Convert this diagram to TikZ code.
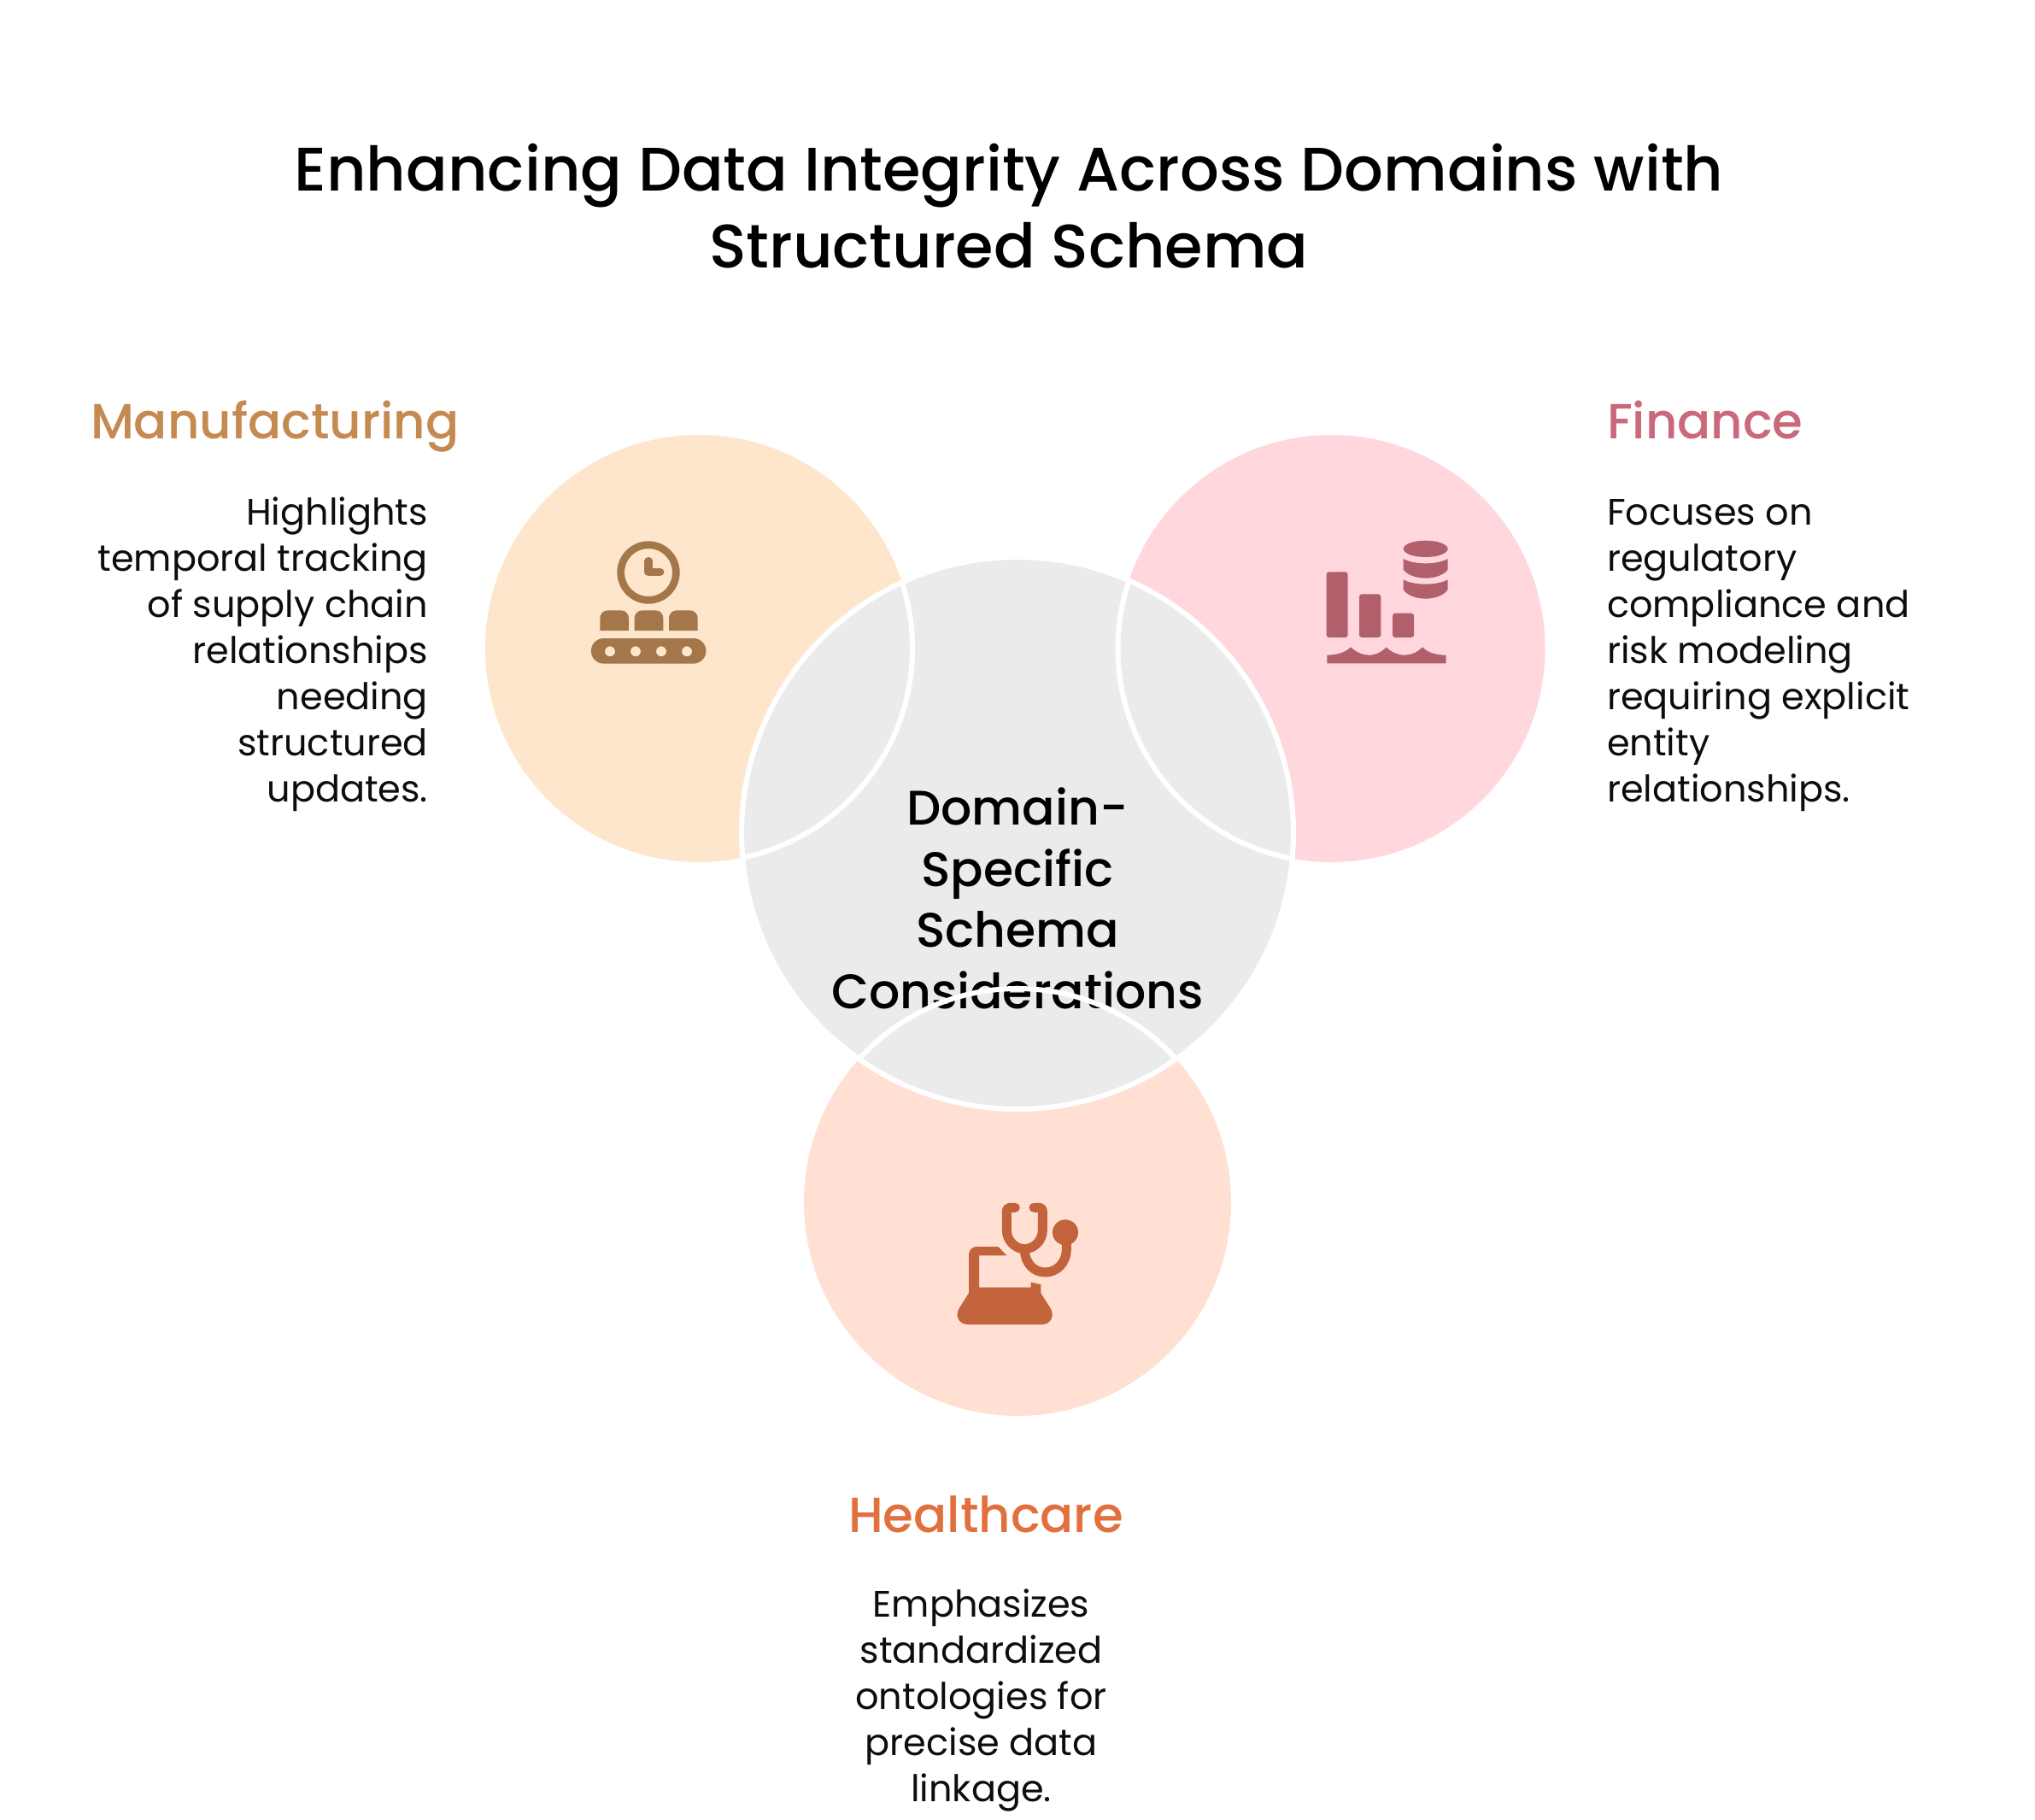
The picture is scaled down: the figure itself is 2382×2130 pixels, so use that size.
\documentclass[tikz,border=0pt]{standalone}
\usepackage{fontspec}
\setmainfont{Poppins}
\newfontfamily\medfont{Poppins Medium}
\definecolor{mfill}{HTML}{FEE6CD}
\definecolor{ffill}{HTML}{FFD7DC}
\definecolor{hfill}{HTML}{FFE0D3}
\definecolor{cfill}{HTML}{EBEBEB}
\definecolor{micon}{HTML}{A4774B}
\definecolor{ficon}{HTML}{B1606B}
\definecolor{hicon}{HTML}{C2633C}
\definecolor{mhead}{HTML}{C48A4F}
\definecolor{fhead}{HTML}{C9697A}
\definecolor{hhead}{HTML}{E2703F}
\tikzset{
  petal/.style={circle,minimum size=500pt,inner sep=0pt,outer sep=0pt},
  hub/.style={circle,draw=white,line width=6pt,fill=cfill,minimum size=646pt,inner sep=0pt,outer sep=0pt},
  bodytext/.style={inner sep=0pt,outer sep=0pt,font=\fontsize{43}{54}\selectfont,text=black!95},
  headtext/.style={inner sep=0pt,outer sep=0pt,font=\medfont\fontsize{57.8}{60}\selectfont},
  titletext/.style={inner sep=0pt,outer sep=0pt,align=center,font=\medfont\fontsize{71.9}{90}\selectfont},
  hubtext/.style={inner sep=0pt,outer sep=0pt,align=center,font=\medfont\fontsize{56.8}{71.5}\selectfont},
  seam/.style={draw=white,line width=6pt}
}
\begin{document}
\begin{tikzpicture}[x=1pt,y=-1pt]
\useasboundingbox (0,0) rectangle (2382,2130);
\fill[white] (0,0) rectangle (2382,2130);
% circles
\node[petal,fill=mfill] (mc) at (818,759) {};
\node[petal,fill=ffill] (fc) at (1558.5,759) {};
\node[petal,fill=hfill] (hc) at (1191,1407) {};
\node[hub] (cc) at (1191,975) {};
% hub text under the seams
\node[hubtext,anchor=north] (ct) at (1191,922) {Domain-\\Specific\\Schema\\Considerations};
\begin{scope}
\clip (1191,975) circle (323);
\draw[seam] (818,759) circle (250);
\draw[seam] (1558.5,759) circle (250);
\draw[seam] (1191,1407) circle (250);
\end{scope}
% title
\node[titletext,anchor=north] (title) at (1181,168) {Enhancing Data Integrity Across Domains with\\Structured Schema};
% headings
\node[headtext,anchor=base west,text=mhead] (mh) at (106,513) {Manufacturing};
\node[headtext,anchor=base west,text=fhead] (fh) at (1881,513) {Finance};
\node[headtext,anchor=base,text=hhead] (hh) at (1154,1793) {Healthcare};
% bodies
\node[bodytext,anchor=north east,align=right] (mb) at (501,582) {Highlights\\temporal tracking\\of supply chain\\relationships\\needing\\structured\\updates.};
\node[bodytext,anchor=north west,align=left] (fb) at (1881,585) {Focuses on\\regulatory\\compliance and\\risk modeling\\requiring explicit\\entity\\relationships.};
\node[bodytext,anchor=north,align=center] (hb) at (1148.5,1860) {Emphasizes\\standardized\\ontologies for\\precise data\\linkage.};
% manufacturing icon
\begin{scope}[shift={(640,600)},scale=1/3]
\draw[micon,line width=8.7pt] (357,210) circle (97);
\draw[micon,line width=9.5pt,line cap=round,line join=round] (357,170) -- (357,208) -- (398,208);
\fill[micon] (187,414) -- (187,370) arc (180:270:27) -- (261,343) arc (270:360:27) -- (288,414) -- cycle;
\fill[micon] (308,414) -- (308,370) arc (180:270:27) -- (382,343) arc (270:360:27) -- (409,414) -- cycle;
\fill[micon] (429,414) -- (429,370) arc (180:270:27) -- (503,343) arc (270:360:27) -- (530,414) -- cycle;
\fill[micon,even odd rule] (200,441) -- (515,441) arc (-90:90:44.5) -- (200,530) arc (90:270:44.5) -- cycle
  (222,487) circle (18) (312,487) circle (18) (402,487) circle (18) (492,487) circle (18);
\end{scope}
% finance icon
\begin{scope}[shift={(1500,600)},scale=1/3,rounded corners=3pt]
\fill[ficon] (158,208) rectangle (233,438);
\fill[ficon] (273,286) rectangle (349,438);
\fill[ficon] (390,353) rectangle (465,438);
\end{scope}
\begin{scope}[shift={(1500,600)},scale=1/3]
\fill[ficon] (160,529) -- (160,500) .. controls (195,500) and (225,490) .. (243,472)
  .. controls (262,490) and (285,500) .. (306,500) .. controls (330,500) and (352,490) .. (368,472)
  .. controls (385,490) and (410,500) .. (432,500) .. controls (455,500) and (478,490) .. (495,472)
  .. controls (512,490) and (540,500) .. (578,500) -- (578,529) -- cycle;
\fill[ficon] (506,127) ellipse (78 and 29);
\fill[ficon] (428,162) .. controls (450,174) and (480,178) .. (506,178) .. controls (532,178) and (562,174) .. (584,162)
  -- (584,200) .. controls (570,220) and (535,230) .. (506,230) .. controls (477,230) and (442,220) .. (428,200) -- cycle;
\fill[ficon] (428,235) .. controls (450,247) and (480,251) .. (506,251) .. controls (532,251) and (562,247) .. (584,235)
  -- (584,270) .. controls (570,292) and (535,302) .. (506,302) .. controls (477,302) and (442,292) .. (428,270) -- cycle;
\end{scope}
% healthcare icon
\begin{scope}[shift={(1080,1380)},scale=1/3]
\fill[hicon] (162,400) -- (162,265) .. controls (162,248) and (175,237) .. (190,237) -- (265,237) -- (295,268) -- (198,268) -- (198,380) -- (380,380) -- (380,362) -- (415,370) -- (415,400) -- (450,455)
  .. controls (465,485) and (445,510) .. (420,510) -- (160,510) .. controls (130,510) and (112,485) .. (127,455) -- cycle;
\draw[hicon,line width=11pt,line cap=round] (325,100) -- (310,100) .. controls (300,100) and (295,105) .. (295,115) -- (295,180) .. controls (295,215) and (325,245) .. (358,245) .. controls (391,245) and (421,215) .. (421,180) -- (421,115) .. controls (421,105) and (416,100) .. (406,100) -- (390,100);
\draw[hicon,line width=11pt] (358,245) .. controls (358,295) and (390,327) .. (430,327) .. controls (470,327) and (505,295) .. (505,245) -- (505,200);
\fill[hicon] (501,187) circle (45);
\end{scope}
\end{tikzpicture}
\end{document}
